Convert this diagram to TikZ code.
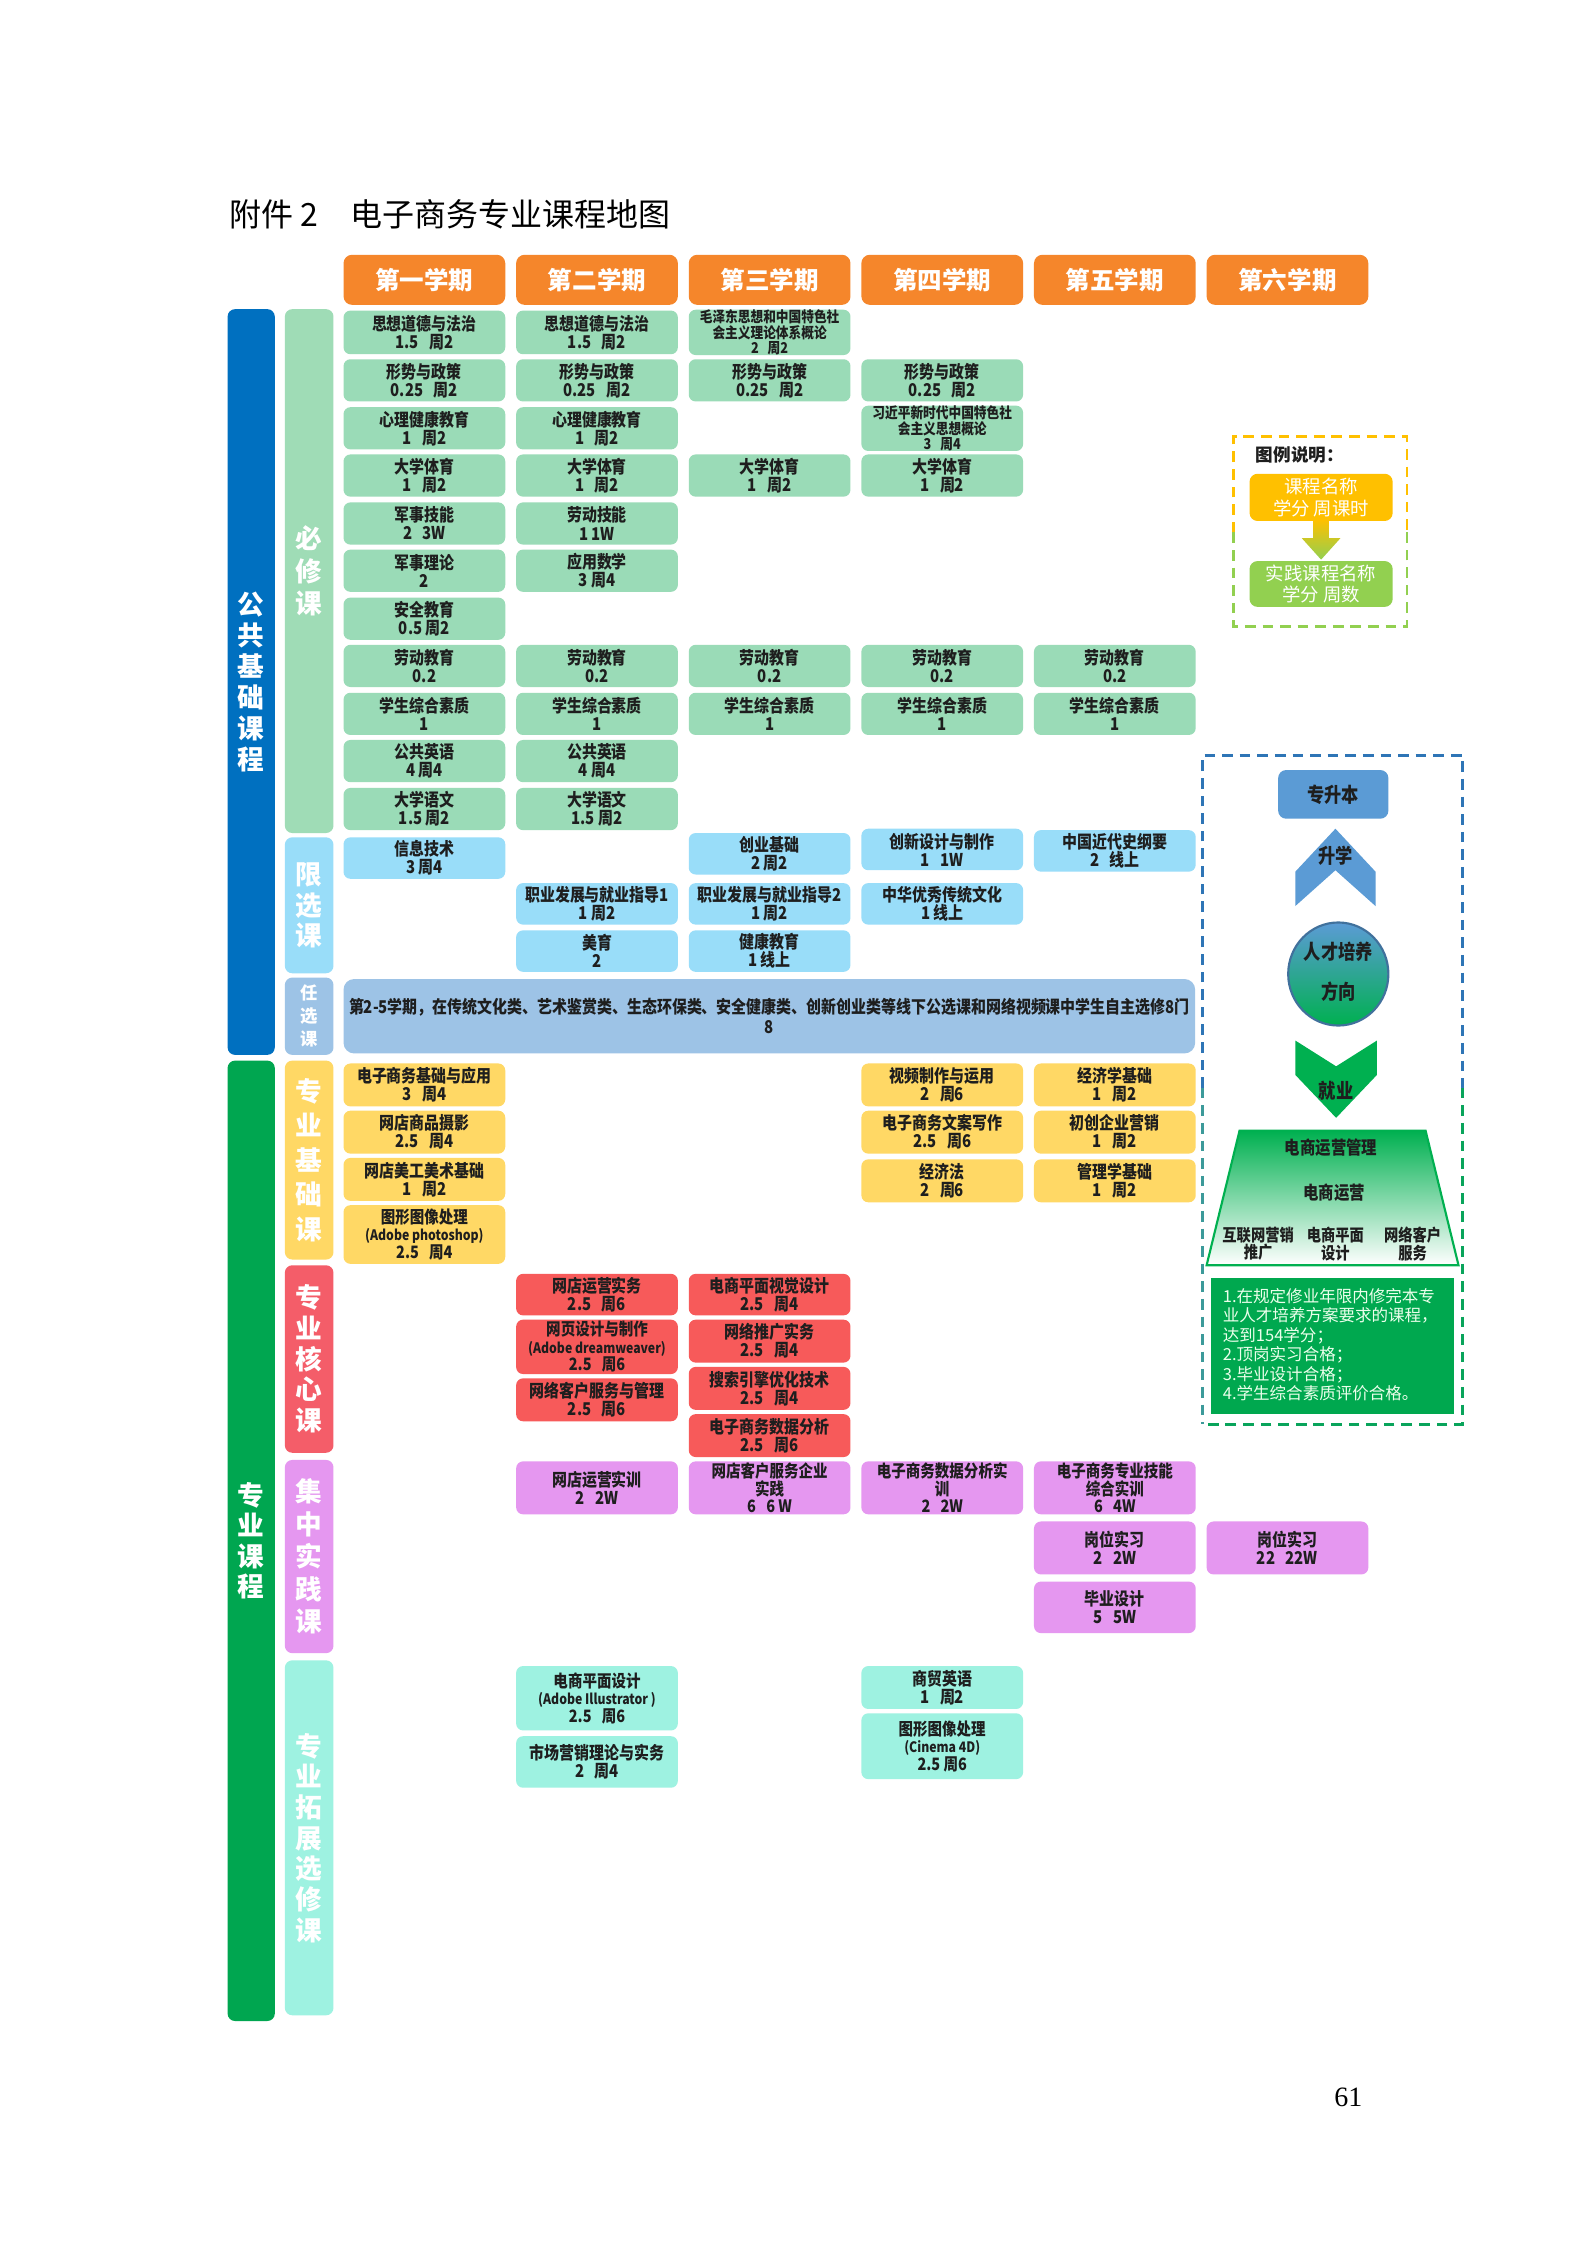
\documentclass[tikz,border=0pt]{standalone}
\usepackage{fontspec}
\setmainfont{Liberation Serif}
\newfontfamily\cjk{Noto Sans CJK SC}
\newfontfamily\cjkc[FakeStretch=0.85]{Noto Sans CJK SC}
\definecolor{hdr}{HTML}{F5862B}
\definecolor{bx}{HTML}{9ADBB7}
\definecolor{bxs}{HTML}{9FDCB6}
\definecolor{lx}{HTML}{99DDF9}
\definecolor{rx}{HTML}{9DC3E6}
\definecolor{jc}{HTML}{FFD865}
\definecolor{hx}{HTML}{F75A5A}
\definecolor{hxs}{HTML}{F45D69}
\definecolor{sj}{HTML}{E597F0}
\definecolor{tz}{HTML}{9EF2E1}
\definecolor{gg}{HTML}{0070C0}
\definecolor{zy}{HTML}{00A650}
\definecolor{rb}{HTML}{5B9BD5}
\definecolor{lg}{HTML}{00B050}
\definecolor{lgy}{HTML}{FFC000}
\definecolor{lgg}{HTML}{92D050}
\definecolor{dblue}{HTML}{2E75B6}
\definecolor{teal}{HTML}{3C9A9A}
\definecolor{req}{HTML}{00A84F}
\definecolor{tx}{HTML}{1E1E1E}
\definecolor{cbd}{HTML}{41719C}
\newcommand\gp{\hspace{0.6em}}
\newcommand\U{0.5369pt}
\newcommand\lat[1]{{\fontsize{5.4}{6.5}\selectfont #1}}
\tikzset{
  cb/.style={fill=#1, rounded corners=2.6pt, minimum width=113*\U, inner sep=0pt, align=center, text=tx,
    font=\cjkc\bfseries\fontsize{6.6}{6.8}\selectfont},
  cbt/.style={cb=#1, font=\cjkc\bfseries\fontsize{6.4}{6.5}\selectfont},
  cbs/.style={cb=#1, font=\cjkc\bfseries\fontsize{5.6}{5.8}\selectfont},
  hd/.style={fill=hdr, rounded corners=3.2pt, minimum width=113*\U, minimum height=35*\U, inner sep=0pt, text=white,
    font=\cjk\bfseries\fontsize{9.2}{10}\selectfont},
  sidebar/.style={fill=#1, rounded corners=2.8pt, inner sep=0pt, align=center, text=white},
  lab/.style={inner sep=0pt, align=center, text=tx},
  dsh/.style={dash pattern=on 4pt off 2.6pt, line width=1.1pt},
}
\newcommand\CB[6]{\node[#5, minimum height={(#4-#3)*\U}] (#1) at ({296.5+120.6*(#2-1)},{(#3+#4)/2}) {#6};}
\begin{document}
\begin{tikzpicture}[x=\U,y=-\U]
\useasboundingbox (0,0) rectangle (1108.9,1568.5);
\fill[white] (0,0) rectangle (1108.9,1568.5);
% title
\node[anchor=west, inner sep=0pt, font=\cjk\fontsize{12}{14}\selectfont] (title) at (160,150) {附件 2\hspace{1em}电子商务专业课程地图};
% headers
\node[hd] (h1) at (296.5,195.5) {第一学期};
\node[hd] (h2) at (417.1,195.5) {第二学期};
\node[hd] (h3) at (537.7,195.5) {第三学期};
\node[hd] (h4) at (658.3,195.5) {第四学期};
\node[hd] (h5) at (778.9,195.5) {第五学期};
\node[hd] (h6) at (899.5,195.5) {第六学期};
% main side bars
\node[sidebar=gg, minimum width=33*\U, minimum height={521*\U}, font=\cjk\bfseries\fontsize{10}{11.6}\selectfont] (pub) at (175.5,476.5) {公\\共\\基\\础\\课\\程};
\node[sidebar=zy, minimum width=33*\U, minimum height={671*\U}, font=\cjk\bfseries\fontsize{10}{11.4}\selectfont] (pro) at (175.5,1076.5) {专\\业\\课\\程};
% sub bars
\node[sidebar=bxs, minimum width=34*\U, minimum height={366*\U}, font=\cjk\bfseries\fontsize{10}{12.2}\selectfont] (bxbar) at (216,399) {必\\修\\课};
\node[sidebar=lx, minimum width=34*\U, minimum height={95*\U}, font=\cjk\bfseries\fontsize{10}{11.6}\selectfont] (lxbar) at (216,632.5) {限\\选\\课};
\node[sidebar=rx, minimum width=34*\U, minimum height={54*\U}, font=\cjk\bfseries\fontsize{6.5}{8.6}\selectfont] (rxbar) at (216,710) {任\\选\\课};
\node[sidebar=jc, minimum width=34*\U, minimum height={139*\U}, font=\cjk\bfseries\fontsize{10}{12.9}\selectfont] (jcbar) at (216,810.5) {专\\业\\基\\础\\课};
\node[sidebar=hxs, minimum width=34*\U, minimum height={131*\U}, font=\cjk\bfseries\fontsize{10}{11.5}\selectfont] (hxbar) at (216,949.5) {专\\业\\核\\心\\课};
\node[sidebar=sj, minimum width=34*\U, minimum height={135*\U}, font=\cjk\bfseries\fontsize{10}{12.2}\selectfont] (sjbar) at (216,1087.5) {集\\中\\实\\践\\课};
\node[sidebar=tz, minimum width=34*\U, minimum height={248*\U}, font=\cjk\bfseries\fontsize{10}{11.5}\selectfont] (tzbar) at (216,1284) {专\\业\\拓\\展\\选\\修\\课};
% compulsory courses
\CB{a1}{1}{217}{247.5}{cb=bx}{思想道德与法治\\1.5\gp{}周2}
\CB{a2}{1}{251}{280.5}{cb=bx}{形势与政策\\0.25\gp{}周2}
\CB{a3}{1}{284.5}{314}{cb=bx}{心理健康教育\\1\gp{}周2}
\CB{a4}{1}{317.5}{347}{cb=bx}{大学体育\\1\gp{}周2}
\CB{a5}{1}{351}{380.5}{cb=bx}{军事技能\\2\gp{}3W}
\CB{a6}{1}{384}{413.5}{cb=bx}{军事理论\\2}
\CB{a7}{1}{417.5}{447}{cb=bx}{安全教育\\0.5 周2}
\CB{a8}{1}{450.5}{480}{cb=bx}{劳动教育\\0.2}
\CB{a9}{1}{484}{513.5}{cb=bx}{学生综合素质\\1}
\CB{a10}{1}{517}{546.5}{cb=bx}{公共英语\\4 周4}
\CB{a11}{1}{550.5}{580}{cb=bx}{大学语文\\1.5 周2}
\CB{b1}{2}{217}{247.5}{cb=bx}{思想道德与法治\\1.5\gp{}周2}
\CB{b2}{2}{251}{280.5}{cb=bx}{形势与政策\\0.25\gp{}周2}
\CB{b3}{2}{284.5}{314}{cb=bx}{心理健康教育\\1\gp{}周2}
\CB{b4}{2}{317.5}{347}{cb=bx}{大学体育\\1\gp{}周2}
\CB{b5}{2}{351}{380.5}{cb=bx}{劳动技能\\1 1W}
\CB{b6}{2}{384}{413.5}{cb=bx}{应用数学\\3 周4}
\CB{b8}{2}{450.5}{480}{cb=bx}{劳动教育\\0.2}
\CB{b9}{2}{484}{513.5}{cb=bx}{学生综合素质\\1}
\CB{b10}{2}{517}{546.5}{cb=bx}{公共英语\\4 周4}
\CB{b11}{2}{550.5}{580}{cb=bx}{大学语文\\1.5 周2}
\CB{d1}{3}{217}{247.5}{cbs=bx}{毛泽东思想和中国特色社\\会主义理论体系概论\\2\gp{}周2}
\CB{d2}{3}{251}{280.5}{cb=bx}{形势与政策\\0.25\gp{}周2}
\CB{d4}{3}{317.5}{347}{cb=bx}{大学体育\\1\gp{}周2}
\CB{d8}{3}{450.5}{480}{cb=bx}{劳动教育\\0.2}
\CB{d9}{3}{484}{513.5}{cb=bx}{学生综合素质\\1}
\CB{e2}{4}{251}{280.5}{cb=bx}{形势与政策\\0.25\gp{}周2}
\CB{e3}{4}{284.5}{314}{cbs=bx}{习近平新时代中国特色社\\会主义思想概论\\3\gp{}周4}
\CB{e4}{4}{317.5}{347}{cb=bx}{大学体育\\1\gp{}周2}
\CB{e8}{4}{450.5}{480}{cb=bx}{劳动教育\\0.2}
\CB{e9}{4}{484}{513.5}{cb=bx}{学生综合素质\\1}
\CB{f8}{5}{450.5}{480}{cb=bx}{劳动教育\\0.2}
\CB{f9}{5}{484}{513.5}{cb=bx}{学生综合素质\\1}
% limited electives
\CB{l1}{1}{585}{614}{cb=lx}{信息技术\\3 周4}
\CB{l2}{3}{582}{611}{cb=lx}{创业基础\\2 周2}
\CB{l3}{4}{579}{608}{cb=lx}{创新设计与制作\\1\gp{}1W}
\CB{l4}{5}{580}{609}{cb=lx}{中国近代史纲要\\2\gp{}线上}
\CB{l5}{2}{617}{646}{cb=lx}{职业发展与就业指导1\\1 周2}
\CB{l6}{3}{617}{646}{cb=lx}{职业发展与就业指导2\\1 周2}
\CB{l7}{4}{617}{646}{cb=lx}{中华优秀传统文化\\1 线上}
\CB{l8}{2}{650}{679}{cb=lx}{美育\\2}
\CB{l9}{3}{650}{679}{cb=lx}{健康教育\\1 线上}
% free electives
\node[fill=rx, rounded corners=4pt, minimum width={595*\U}, minimum height={52*\U}, inner sep=0pt, align=center, text=tx, font=\cjkc\bfseries\fontsize{6.6}{7.4}\selectfont] (rxbox) at (537.5,710) {第2-5学期，在传统文化类、艺术鉴赏类、生态环保类、安全健康类、创新创业类等线下公选课和网络视频课中学生自主选修8门\\8};
% professional foundation
\CB{j1}{1}{743}{773}{cb=jc}{电子商务基础与应用\\3\gp{}周4}
\CB{j2}{1}{776}{806}{cb=jc}{网店商品摄影\\2.5\gp{}周4}
\CB{j3}{1}{809}{839}{cb=jc}{网店美工美术基础\\1\gp{}周2}
\CB{j4}{1}{842}{883}{cbt=jc}{图形图像处理\\\lat{(Adobe photoshop)}\\2.5\gp{}周4}
\CB{j5}{4}{743}{773}{cb=jc}{视频制作与运用\\2\gp{}周6}
\CB{j6}{4}{776}{806}{cb=jc}{电子商务文案写作\\2.5\gp{}周6}
\CB{j7}{4}{810}{840}{cb=jc}{经济法\\2\gp{}周6}
\CB{j8}{5}{743}{773}{cb=jc}{经济学基础\\1\gp{}周2}
\CB{j9}{5}{776}{806}{cb=jc}{初创企业营销\\1\gp{}周2}
\CB{j10}{5}{810}{840}{cb=jc}{管理学基础\\1\gp{}周2}
% professional core
\CB{k1}{2}{890}{919}{cb=hx}{网店运营实务\\2.5\gp{}周6}
\CB{k2}{2}{922}{960}{cbt=hx}{网页设计与制作\\\lat{(Adobe dreamweaver)}\\2.5\gp{}周6}
\CB{k3}{2}{963}{993}{cb=hx}{网络客户服务与管理\\2.5\gp{}周6}
\CB{k4}{3}{890}{919}{cb=hx}{电商平面视觉设计\\2.5\gp{}周4}
\CB{k5}{3}{922}{952}{cb=hx}{网络推广实务\\2.5\gp{}周4}
\CB{k6}{3}{955}{985}{cb=hx}{搜索引擎优化技术\\2.5\gp{}周4}
\CB{k7}{3}{988}{1018}{cb=hx}{电子商务数据分析\\2.5\gp{}周6}
% practice
\CB{p1}{2}{1021}{1058}{cb=sj}{网店运营实训\\2\gp{}2W}
\CB{p2}{3}{1021}{1058}{cbt=sj}{网店客户服务企业\\实践\\6\gp{}6 W}
\CB{p3}{4}{1021}{1058}{cbt=sj}{电子商务数据分析实\\训\\2\gp{}2W}
\CB{p4}{5}{1021}{1058}{cbt=sj}{电子商务专业技能\\综合实训\\6\gp{}4W}
\CB{p5}{5}{1063}{1100}{cb=sj}{岗位实习\\2\gp{}2W}
\CB{p6}{6}{1063}{1100}{cb=sj}{岗位实习\\22\gp{}22W}
\CB{p7}{5}{1105}{1141}{cb=sj}{毕业设计\\5\gp{}5W}
% extension electives
\CB{t1}{2}{1164}{1209}{cbt=tz}{电商平面设计\\\lat{(Adobe Illustrator )}\\2.5\gp{}周6}
\CB{t2}{2}{1213}{1249}{cb=tz}{市场营销理论与实务\\2\gp{}周4}
\CB{t3}{4}{1164}{1194}{cb=tz}{商贸英语\\1\gp{}周2}
\CB{t4}{4}{1197}{1243}{cbt=tz}{图形图像处理\\\lat{(Cinema 4D)}\\2.5 周6}
% legend
\draw[lgy, dsh] (862,372) -- (862,305) -- (983,305) -- (983,372);
\draw[lgg, dsh] (862,372) -- (862,438) -- (983,438) -- (983,372);
\node[anchor=west, inner sep=0pt, text=tx, font=\cjk\bfseries\fontsize{6.6}{8}\selectfont] (lgt) at (877,318) {图例说明：};
\node[fill=lgy, rounded corners=3pt, minimum width=100*\U, minimum height=33*\U, inner sep=0pt, align=center, text=white, font=\cjk\fontsize{6.9}{8.2}\selectfont] (lg1) at (923,347.5) {课程名称\\学分 周课时};
\node[fill=lgg, rounded corners=3pt, minimum width=100*\U, minimum height=32*\U, inner sep=0pt, align=center, text=white, font=\cjk\fontsize{6.9}{8.2}\selectfont] (lg2) at (923,408) {实践课程名称\\学分 周数};
\shade[top color=lgy, bottom color=lgg] (917.5,363) -- (928.5,363) -- (928.5,376) -- (936.5,376) -- (923,391) -- (909.5,376) -- (917.5,376) -- cycle;
% right panel border
\draw[dblue, dsh] (840,760) -- (840,528) -- (1022,528) -- (1022,760);
\draw[teal, dsh] (840,760) -- (840,995);
\draw[zy!85!teal, dsh] (1022,760) -- (1022,995) -- (840,995);
\node[fill=rb, rounded corners=3pt, minimum width=77*\U, minimum height=34*\U, inner sep=0pt, text=tx, font=\cjkc\bfseries\fontsize{7.6}{8}\selectfont] (zsb) at (931.5,555) {专升本};
\fill[rb] (933,579) -- (961,609) -- (961,633) -- (933,608) -- (905,633) -- (905,609) -- cycle;
\node[lab, font=\cjkc\bfseries\fontsize{7.6}{8}\selectfont] (sx) at (933,598) {升学};
\shade[top color=rb, bottom color=lg, middle color=rb!50!lg] (935,680.5) ellipse [x radius=35*\U, y radius=36*\U];
\draw[cbd, line width=0.8pt] (935,680.5) ellipse [x radius=35*\U, y radius=36*\U];
\node[lab, font=\cjkc\bfseries\fontsize{7.6}{8}\selectfont] (rc) at (935,665) {人才培养};
\node[lab, font=\cjkc\bfseries\fontsize{7.6}{8}\selectfont] (fx) at (935,693) {方向};
\fill[lg] (905,727) -- (933.5,745) -- (962,727) -- (962,751) -- (933.5,781) -- (905,751) -- cycle;
\node[lab, font=\cjkc\bfseries\fontsize{7.6}{8}\selectfont] (jy) at (933.5,762) {就业};
\shade[top color=lg, bottom color=white] (866,790) -- (996,790) -- (1019,884) -- (843,884) -- cycle;
\draw[lg, line width=0.8pt] (866,790) -- (996,790) -- (1019,884) -- (843,884) -- cycle;
\node[lab, font=\cjkc\bfseries\fontsize{6.8}{7.2}\selectfont] (yg) at (930,802) {电商运营管理};
\node[lab, font=\cjkc\bfseries\fontsize{6.8}{7.2}\selectfont] (yy) at (932,833) {电商运营};
\node[lab, font=\cjkc\bfseries\fontsize{6.3}{6.6}\selectfont] (yx) at (879,869) {互联网营销\\推广};
\node[lab, font=\cjkc\bfseries\fontsize{6.3}{6.6}\selectfont] (pm) at (933,869) {电商平面\\设计};
\node[lab, font=\cjkc\bfseries\fontsize{6.3}{6.6}\selectfont] (kf) at (987,869) {网络客户\\服务};
\node[fill=req, minimum width={170*\U}, minimum height={95*\U}, inner sep=0pt] (reqbox) at (931,940.5) {};
\node[anchor=west, inner sep=0pt, align=left, text=white!92!green, font=\cjk\fontsize{6.2}{7.3}\selectfont] (reqtxt) at (854,939.5) {1.在规定修业年限内修完本专\\业人才培养方案要求的课程，\\达到154学分；\\2.顶岗实习合格；\\3.毕业设计合格；\\4.学生综合素质评价合格。};
% page number
\node[inner sep=0pt, font=\fontsize{10.5}{12}\selectfont] (pg) at (942,1465) {61};
\end{tikzpicture}
\end{document}
